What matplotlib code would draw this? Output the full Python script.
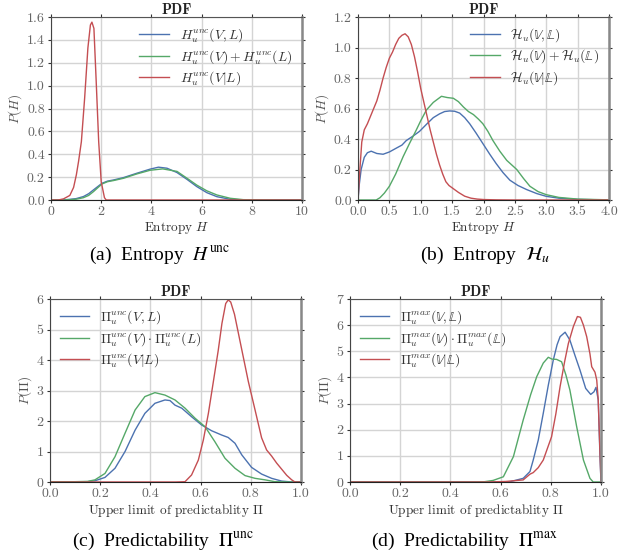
import matplotlib
matplotlib.use("Agg")
import matplotlib.pyplot as plt
from matplotlib.ticker import FormatStrFormatter

plt.rcParams['font.family'] = ['cmr10', 'DejaVu Serif']
plt.rcParams['mathtext.fontset'] = 'cm'
plt.rcParams['axes.formatter.use_mathtext'] = True
plt.rcParams['axes.unicode_minus'] = False

BLUE = '#4c72b0'
GREEN = '#55a868'
RED = '#c44e52'

# ---------------- Panel (a) ----------------
a_blue_x = [0.0, 0.5, 0.76, 1.0, 1.29, 1.5, 1.69, 2.03, 2.25, 2.49, 2.89, 3.42, 3.95, 4.28, 4.62, 5.02, 5.42, 5.81, 6.21, 6.61, 7.14, 7.66, 8.2, 9.0, 10.0]
a_blue_y = [0.0, 0.001, 0.006, 0.012, 0.03, 0.055, 0.088, 0.146, 0.165, 0.175, 0.196, 0.234, 0.27, 0.287, 0.278, 0.24, 0.18, 0.117, 0.064, 0.029, 0.006, 0.001, 0.0, 0.0, 0.0]
a_green_x = [0.0, 0.5, 0.76, 1.0, 1.29, 1.5, 1.69, 2.03, 2.25, 2.49, 2.89, 3.42, 3.95, 4.45, 5.02, 5.42, 5.81, 6.21, 6.61, 7.14, 7.66, 8.2, 9.0, 10.0]
a_green_y = [0.0, 0.0, 0.003, 0.007, 0.02, 0.04, 0.073, 0.14, 0.16, 0.17, 0.19, 0.228, 0.26, 0.272, 0.25, 0.19, 0.13, 0.08, 0.044, 0.015, 0.003, 0.001, 0.0, 0.0]
a_red_x = [0.0, 0.29, 0.5, 0.75, 0.9, 1.01, 1.1, 1.21, 1.34, 1.47, 1.57, 1.63, 1.71, 1.8, 1.9, 2.0, 2.13, 2.2, 10.0]
a_red_y = [0.0, 0.0, 0.01, 0.04, 0.11, 0.22, 0.34, 0.51, 0.89, 1.33, 1.53, 1.555, 1.5, 1.04, 0.51, 0.16, 0.02, 0.0, 0.0]

# ---------------- Panel (b) ----------------
b_blue_x = [0.0, 0.02, 0.05, 0.1, 0.15, 0.21, 0.3, 0.4, 0.5, 0.61, 0.7, 0.77, 0.88, 0.98, 1.1, 1.2, 1.3, 1.38, 1.46, 1.54, 1.62, 1.7, 1.78, 1.88, 1.99, 2.1, 2.2, 2.31, 2.42, 2.55, 2.69, 2.85, 3.0, 3.2, 3.5, 4.0]
b_blue_y = [0.0, 0.1, 0.2, 0.28, 0.31, 0.32, 0.305, 0.30, 0.315, 0.34, 0.36, 0.39, 0.42, 0.45, 0.5, 0.54, 0.565, 0.58, 0.584, 0.582, 0.57, 0.54, 0.5, 0.44, 0.37, 0.3, 0.24, 0.18, 0.13, 0.095, 0.068, 0.042, 0.024, 0.012, 0.004, 0.0]
b_green_x = [0.0, 0.29, 0.35, 0.42, 0.5, 0.6, 0.72, 0.82, 0.93, 1.0, 1.09, 1.2, 1.33, 1.42, 1.52, 1.6, 1.68, 1.76, 1.84, 1.92, 1.99, 2.07, 2.15, 2.26, 2.37, 2.53, 2.64, 2.74, 2.87, 3.0, 3.2, 3.5, 4.0]
b_green_y = [0.0, 0.0, 0.015, 0.045, 0.09, 0.17, 0.285, 0.37, 0.46, 0.52, 0.59, 0.64, 0.68, 0.672, 0.667, 0.645, 0.61, 0.58, 0.56, 0.53, 0.5, 0.45, 0.39, 0.32, 0.26, 0.2, 0.14, 0.09, 0.055, 0.035, 0.017, 0.006, 0.001]
b_red_x = [0.0, 0.03, 0.06, 0.1, 0.15, 0.2, 0.25, 0.3, 0.35, 0.4, 0.45, 0.5, 0.55, 0.6, 0.65, 0.7, 0.75, 0.8, 0.85, 0.9, 0.95, 1.0, 1.05, 1.1, 1.15, 1.2, 1.25, 1.3, 1.35, 1.4, 1.45, 1.5, 1.6, 1.7, 1.8, 1.9, 2.0, 2.2, 2.5, 4.0]
b_red_y = [0.0, 0.2, 0.38, 0.46, 0.5, 0.55, 0.6, 0.65, 0.72, 0.8, 0.87, 0.93, 0.97, 1.02, 1.06, 1.08, 1.09, 1.07, 1.02, 0.94, 0.84, 0.73, 0.64, 0.55, 0.46, 0.38, 0.3, 0.23, 0.17, 0.12, 0.095, 0.08, 0.05, 0.025, 0.012, 0.006, 0.003, 0.001, 0.0, 0.0]

# ---------------- Panel (c) ----------------
c_blue_x = [0.0, 0.1, 0.15, 0.179, 0.219, 0.259, 0.299, 0.339, 0.378, 0.418, 0.458, 0.478, 0.498, 0.525, 0.564, 0.604, 0.644, 0.684, 0.71, 0.737, 0.764, 0.803, 0.843, 0.883, 0.923, 0.963, 1.0]
c_blue_y = [0.0, 0.003, 0.01, 0.04, 0.15, 0.45, 1.0, 1.7, 2.25, 2.58, 2.69, 2.67, 2.52, 2.42, 2.14, 1.87, 1.68, 1.54, 1.46, 1.27, 0.89, 0.48, 0.26, 0.12, 0.03, 0.0, 0.0]
c_green_x = [0.0, 0.1, 0.15, 0.179, 0.219, 0.259, 0.299, 0.339, 0.378, 0.418, 0.458, 0.498, 0.538, 0.578, 0.618, 0.657, 0.697, 0.737, 0.777, 0.817, 0.857, 0.896, 0.95, 1.0]
c_green_y = [0.01, 0.01, 0.02, 0.07, 0.28, 0.83, 1.6, 2.36, 2.8, 2.93, 2.85, 2.69, 2.42, 2.09, 1.81, 1.32, 0.78, 0.45, 0.21, 0.12, 0.07, 0.01, 0.0, 0.0]
c_red_x = [0.0, 0.5, 0.538, 0.564, 0.591, 0.611, 0.631, 0.651, 0.67, 0.685, 0.70, 0.71, 0.72, 0.735, 0.75, 0.77, 0.79, 0.817, 0.843, 0.863, 0.883, 0.903, 0.923, 0.943, 0.963, 0.976, 1.0]
c_red_y = [0.0, 0.0, 0.01, 0.23, 0.72, 1.38, 2.25, 3.3, 4.3, 5.2, 5.85, 5.97, 5.9, 5.5, 4.9, 4.1, 3.3, 2.36, 1.45, 1.05, 0.85, 0.62, 0.42, 0.22, 0.07, 0.0, 0.0]

# ---------------- Panel (d) ----------------
d_blue_x = [0.0, 0.55, 0.637, 0.69, 0.717, 0.73, 0.75, 0.77, 0.79, 0.81, 0.825, 0.837, 0.857, 0.876, 0.896, 0.916, 0.939, 0.959, 0.972, 0.98, 0.989, 0.996, 1.0]
d_blue_y = [0.0, 0.0, 0.01, 0.14, 0.4, 0.84, 1.6, 2.63, 3.7, 4.67, 5.25, 5.56, 5.73, 5.43, 4.85, 4.29, 3.58, 3.35, 3.45, 3.62, 3.14, 0.97, 0.0]
d_green_x = [0.0, 0.5, 0.535, 0.57, 0.611, 0.651, 0.69, 0.72, 0.744, 0.77, 0.79, 0.805, 0.823, 0.843, 0.86, 0.876, 0.903, 0.93, 0.956, 0.969, 1.0]
d_green_y = [0.0, 0.0, 0.01, 0.06, 0.2, 0.97, 2.37, 3.35, 4.03, 4.55, 4.77, 4.7, 4.69, 4.6, 4.1, 3.52, 2.12, 0.84, 0.14, 0.0, 0.0]
d_red_x = [0.0, 0.55, 0.62, 0.69, 0.717, 0.73, 0.75, 0.77, 0.803, 0.82, 0.837, 0.855, 0.87, 0.89, 0.906, 0.918, 0.93, 0.943, 0.956, 0.963, 0.976, 0.983, 0.989, 0.996, 1.0]
d_red_y = [0.0, 0.0, 0.02, 0.08, 0.3, 0.36, 0.55, 0.84, 1.73, 2.6, 3.65, 4.6, 5.3, 5.95, 6.33, 6.3, 6.0, 5.56, 4.9, 4.41, 4.2, 3.9, 3.14, 1.1, 0.0]

labels_a = [r'$H_u^{unc}(V,L)$', r'$H_u^{unc}(V)+H_u^{unc}(L)$', r'$H_u^{unc}(V|L)$']
labels_b = [r'$\mathcal{H}_u(\mathbb{V},\mathbb{L})$', r'$\mathcal{H}_u(\mathbb{V})+\mathcal{H}_u(\mathbb{L})$', r'$\mathcal{H}_u(\mathbb{V}|\mathbb{L})$']
labels_c = [r'$\Pi_u^{unc}(V,L)$', r'$\Pi_u^{unc}(V)\cdot\Pi_u^{unc}(L)$', r'$\Pi_u^{unc}(V|L)$']
labels_d = [r'$\Pi_u^{max}(\mathbb{V},\mathbb{L})$', r'$\Pi_u^{max}(\mathbb{V})\cdot\Pi_u^{max}(\mathbb{L})$', r'$\Pi_u^{max}(\mathbb{V}|\mathbb{L})$']

captions = [r'(a)  Entropy  $H^{\rm unc}$', r'(b)  Entropy  $\mathcal{H}_u$',
            r'(c)  Predictability  $\Pi^{\rm unc}$', r'(d)  Predictability  $\Pi^{\rm max}$']
caption_x = [160, 485, 163, 464]
caption_y = [255, 255, 541, 541]

fig = plt.figure(figsize=(6.33, 5.56), dpi=100)
W, H = 633, 556
boxes = [(51, 17, 302, 200), (358, 17, 609, 200), (50, 299, 301, 482), (350, 299, 601, 482)]
axes = []
for (l, t, r, b) in boxes:
    axes.append(fig.add_axes([l / W, 1 - b / H, (r - l) / W, (b - t) / H]))

panels = [
    (a_blue_x, a_blue_y, a_green_x, a_green_y, a_red_x, a_red_y, labels_a, (0, 10), (0, 1.6),
     [0, 2, 4, 6, 8, 10], [0.0, 0.2, 0.4, 0.6, 0.8, 1.0, 1.2, 1.4, 1.6], '%d', '%.1f', r'$P(H)$', r'Entropy $H$', 'upper right'),
    (b_blue_x, b_blue_y, b_green_x, b_green_y, b_red_x, b_red_y, labels_b, (0, 4), (0, 1.2),
     [0, 0.5, 1.0, 1.5, 2.0, 2.5, 3.0, 3.5, 4.0], [0.0, 0.2, 0.4, 0.6, 0.8, 1.0, 1.2], '%.1f', '%.1f', r'$P(H)$', r'Entropy $H$', 'upper right'),
    (c_blue_x, c_blue_y, c_green_x, c_green_y, c_red_x, c_red_y, labels_c, (0, 1), (0, 6),
     [0, 0.2, 0.4, 0.6, 0.8, 1.0], [0, 1, 2, 3, 4, 5, 6], '%.1f', '%d', r'$P(\Pi)$', r'Upper limit of predictablity $\Pi$', 'upper left'),
    (d_blue_x, d_blue_y, d_green_x, d_green_y, d_red_x, d_red_y, labels_d, (0, 1), (0, 7),
     [0, 0.2, 0.4, 0.6, 0.8, 1.0], [0, 1, 2, 3, 4, 5, 6, 7], '%.1f', '%d', r'$P(\Pi)$', r'Upper limit of predictablity $\Pi$', 'upper left'),
]

for ax, p, cap, cx, cy in zip(axes, panels, captions, caption_x, caption_y):
    bx, by, gx, gy, rx, ry, labs, xl, yl, xt, yt, xf, yf, ylab, xlab, loc = p
    ax.plot(bx, by, color=BLUE, lw=1.0, label=labs[0])
    ax.plot(gx, gy, color=GREEN, lw=1.0, label=labs[1])
    ax.plot(rx, ry, color=RED, lw=1.0, label=labs[2])
    ax.set_xlim(*xl)
    ax.set_ylim(*yl)
    ax.set_xticks(xt)
    ax.set_yticks(yt)
    ax.xaxis.set_major_formatter(FormatStrFormatter(xf))
    ax.yaxis.set_major_formatter(FormatStrFormatter(yf))
    ax.grid(True, color='#d4d4d4', lw=1.0)
    ax.set_axisbelow(True)
    ax.tick_params(axis='both', which='both', direction='out', length=2.5, width=0.8,
                   color='#333333', labelcolor='#666666', labelsize=10, pad=2,
                   top=True, right=True)
    ax.spines['bottom'].set_color('#222222')
    ax.spines['left'].set_color('#444444')
    ax.spines['top'].set_color('#555555')
    ax.spines['right'].set_color('#888888')
    ax.spines['right'].set_linewidth(1.8)
    ax.set_title('PDF', fontfamily='cmb10', fontsize=10.5, pad=1.5, color='#222222')
    ax.set_ylabel(ylab, fontsize=9.5, color='#555555', labelpad=2)
    ax.set_xlabel(xlab, fontsize=9.5, color='#333333', labelpad=1)
    leg = ax.legend(loc=loc, frameon=False, fontsize=9.8, handlelength=2.2,
                    borderaxespad=0.3, labelspacing=0.25, handletextpad=0.8)
    for txt in leg.get_texts():
        txt.set_color('#333333')
    fig.text(cx / W, 1 - cy / H, cap, ha='center', va='center',
             fontsize=14, fontfamily='Liberation Serif', math_fontfamily='stix', color='black')

fig.savefig('out.png', dpi=100)
